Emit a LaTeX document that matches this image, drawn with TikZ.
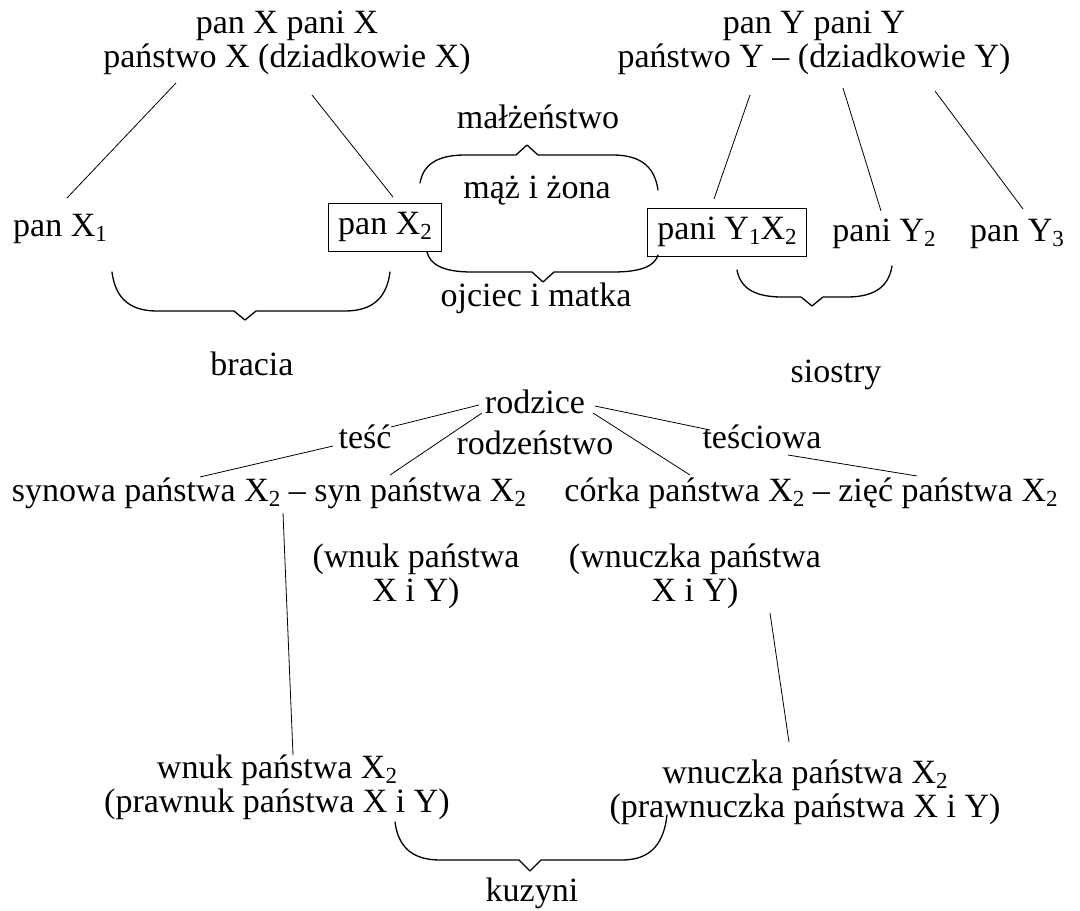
\documentclass[tikz,border=0pt]{standalone}
\usepackage{fontspec}
\setmainfont{Liberation Serif}
\usetikzlibrary{calc}

% lowered index digit (X_1, Y_2, ...)
\newcommand{\ix}[1]{\smash{\raisebox{-0.16em}{\fontsize{23}{23}\selectfont #1}}}

% rounded curly bracket: ends (#1,#2) and (#3,#4), straight part at height #5, tip at (#6,#7)
\newcommand{\curlybr}[7]{%
  \draw[brc] (#1,#2) .. controls ({#1+3},{#5+0.4*(#2-#5)}) and ({#1+15},#5) .. ({#1+45},#5)
    -- ({#6-11},#5) -- (#6,#7) -- ({#6+11},#5) -- ({#3-45},#5)
    .. controls ({#3-15},#5) and ({#3-3},{#5+0.4*(#4-#5)}) .. (#3,#4);}

\begin{document}
\begin{tikzpicture}[x=1pt,y=-1pt,
  every node/.style={font=\fontsize{34}{34}\selectfont, inner sep=0pt},
  lbl/.style={text height=23pt, text depth=7pt},
  two/.style={align=center},
  framed/.style={draw, line width=0.9pt, inner xsep=10pt, inner ysep=8.5pt,
                 text height=23pt, text depth=8pt},
  conn/.style={line width=0.8pt},
  brc/.style={line width=1.3pt, line join=round, line cap=round}]

\useasboundingbox (0,0) rectangle (1080,911);

% grandparents
\node[two] (topL) at (287,43) {pan X pani X\\państwo X (dziadkowie X)};
\node[two] (topR) at (814,43) {pan Y pani Y\\państwo Y – (dziadkowie Y)};

% children of both families
\node[lbl]    (X1)   at (60,228)   {pan X\ix{1}};
\node[framed] (X2)   at (385,227)  {pan X\ix{2}};
\node[framed] (Y1X2) at (727,232)  {pani Y\ix{1}X\ix{2}};
\node[lbl]    (Y2)   at (884,233)  {pani Y\ix{2}};
\node[lbl]    (Y3)   at (1017,233) {pan Y\ix{3}};

\node[lbl] (malz)    at (538,120) {małżeństwo};
\node[lbl] (maz)     at (537,190) {mąż i żona};
\node[lbl] (ojciec)  at (536,298) {ojciec i matka};
\node[lbl] (bracia)  at (252,367) {bracia};
\node[lbl] (siostry) at (836,374) {siostry};

% next generation
\node[lbl] (rodzice)    at (535,405) {rodzice};
\node[lbl] (tesc)       at (365,440) {teść};
\node[lbl] (rodzenstwo) at (535,446) {rodzeństwo};
\node[lbl] (tesciowa)   at (762,440) {teściowa};
\node[lbl] (rowL) at (269,493) {synowa państwa X\ix{2} – syn państwa X\ix{2}};
\node[lbl] (rowR) at (811,493) {córka państwa X\ix{2} – zięć państwa X\ix{2}};
\node[two] (wnukXY)    at (416,576) {(wnuk państwa\\X i Y)};
\node[two] (wnuczkaXY) at (695,576) {(wnuczka państwa\\X i Y)};

% grandchildren
\node[two] (botL) at (277,787) {wnuk państwa X\ix{2}\\(prawnuk państwa X i Y)};
\node[two] (botR) at (805,792) {wnuczka państwa X\ix{2}\\(prawnuczka państwa X i Y)};
\node[lbl] (kuzyni) at (532,893) {kuzyni};

% family lines
\draw[conn] ($(topL)+(-111,40)$) -- ($(X1)+(7,-30)$);
\draw[conn] ($(topL)+(25,52)$)   -- ($(X2)+(8,-30)$);
\draw[conn] ($(topR)+(-64,52)$)  -- ($(Y1X2)+(-13,-33)$);
\draw[conn] ($(topR)+(29,45)$)   -- ($(Y2)+(-3,-22)$);
\draw[conn] ($(topR)+(121,48)$)  -- ($(Y3)+(6,-24)$);
\draw[conn] ($(rodzice)+(-56,0)$)  -- ($(tesc)+(26,-13)$);
\draw[conn] ($(tesc)+(-32,6)$)     -- ($(rowL)+(-69,-16)$);
\draw[conn] ($(rodzice)+(-53,8)$)  -- ($(rowL)+(121,-18)$);
\draw[conn] ($(rodzice)+(58,8)$)   -- ($(rowR)+(-121,-18)$);
\draw[conn] ($(rodzice)+(60,1)$)   -- ($(tesciowa)+(-52,-10)$);
\draw[conn] ($(tesciowa)+(26,15)$) -- ($(rowR)+(106,-17)$);
\draw[conn] ($(rowL)+(14,20)$)     -- ($(botL)+(16,-32)$);
\draw[conn] ($(wnuczkaXY)+(75,37)$) -- ($(botR)+(-16,-50)$);

% brackets
\curlybr{420}{183}{658}{190}{155}{527}{145}
\curlybr{427}{252}{658}{255}{272}{543}{282}
\curlybr{112}{272}{390}{272}{311}{245}{320}
\curlybr{737}{270}{892}{266}{297}{812}{306}
\curlybr{395}{822}{667}{815}{860}{530}{871}

\end{tikzpicture}
\end{document}
